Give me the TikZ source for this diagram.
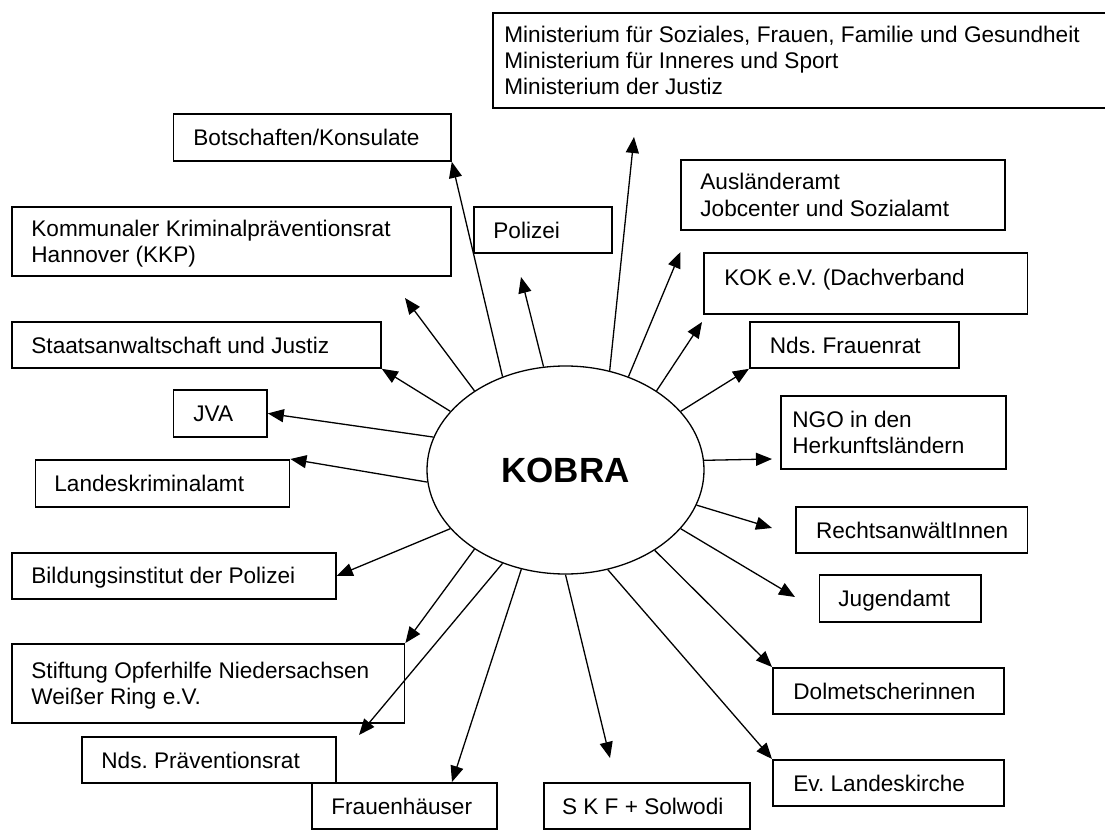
\documentclass[tikz,border=0pt]{standalone}
\usepackage{fontspec}
\setmainfont{Liberation Sans}
\usetikzlibrary{arrows.meta, shapes.geometric}
\frenchspacing
\newcommand{\lstrut}{\rule[-0.18em]{0pt}{1.08em}}
\newcommand{\orgbox}[7]{
    \node[orgbox, minimum width=#4*0.5pt, minimum height=#5*0.5pt, anchor=north west] (#1) at (#2,#3) {};
    \node[orgtext, anchor=west] (#1t) at ([xshift=#6*0.5pt] #1.west) {\lstrut#7\lstrut};
}

\begin{document}
\begin{tikzpicture}[x=0.5pt, y=-0.5pt,
        orgbox/.style={draw, line width=0.9pt, inner sep=0pt},
        orgtext/.style={align=left, inner sep=0pt, font=\fontsize{11.3pt}{13.2pt}\selectfont},
        arr/.style={-{Triangle[length=8pt, width=6.5pt]}, line width=0.65pt}]
        \useasboundingbox (0,0) rectangle (1105,830);
        \node[ellipse, draw, line width=0.65pt, minimum width=138.5pt, minimum height=104pt, inner sep=0pt,
            font=\fontsize{17.5pt}{20pt}\selectfont\bfseries] (kobra) at (565.5,470) {KOBRA};

        \orgbox{mini}{492}{12}{614}{95}{12}{Ministerium für Soziales, Frauen, Familie und Gesundheit\\Ministerium für Inneres und Sport\\Ministerium der Justiz}
        \orgbox{botsch}{172.5}{113}{277.5}{47}{20.5}{Botschaften/Konsulate}
        \orgbox{kkp}{11}{206}{439}{69}{20}{Kommunaler Kriminalpräventionsrat\\Hannover (KKP)}
        \orgbox{pol}{473}{206}{138}{46}{20}{Polizei}
        \orgbox{sta}{11}{321}{369}{46}{20}{Staatsanwaltschaft und Justiz}
        \orgbox{jva}{172.5}{389}{93.5}{47}{20.5}{JVA}
        \orgbox{lka}{34.6}{459}{254}{47}{19.4}{Landeskriminalamt}
        \orgbox{bild}{11}{552}{324}{46}{20}{Bildungsinstitut der Polizei}
        \orgbox{stift}{11}{643}{392.6}{79}{20}{Stiftung Opferhilfe Niedersachsen\\Weißer Ring e.V.}
        \orgbox{npr}{81.4}{736}{253.6}{46}{19.6}{Nds. Präventionsrat}
        \orgbox{fh}{311}{782}{185}{46}{20}{Frauenhäuser}
        \orgbox{skf}{543}{782}{206}{46}{18.6}{S K F + Solwodi}
        \orgbox{ev}{772}{759}{231}{46}{21}{Ev. Landeskirche}
        \orgbox{dol}{772}{667}{231}{46}{21}{Dolmetscherinnen}
        \orgbox{jug}{818.6}{574}{161.4}{46.7}{19.4}{Jugendamt}
        \orgbox{ra}{795}{506}{231.5}{46}{20.7}{RechtsanwältInnen}
        \orgbox{ngo}{780}{395}{225}{73}{12}{NGO in den\\Herkunftsländern}
        \orgbox{nfr}{749}{321}{209}{46}{20.5}{Nds. Frauenrat}
        \orgbox{kok}{703}{252}{323.5}{61}{21}{\raisebox{3pt}[\height][\depth]{KOK e.V. (Dachverband}}
        \orgbox{ausl}{680}{159}{324}{70}{20}{Ausländeramt\\Jobcenter und Sozialamt}

        \coordinate (kkptip) at (405,298);
        \coordinate (poltip) at (521,277);
        \coordinate (nprtip) at (359,735);
        \coordinate (fhtip) at (452,782);
        \coordinate (skftip) at (610,758);
        \coordinate (jugtip) at (795,597);
        \coordinate (ratip) at (772,528);
        \coordinate (ngotip) at (772,459);
        \coordinate (koktip) at (702,322);
        \coordinate (ausltip) at (680.5,252);
        \coordinate (minitip) at (634,137);

        \draw[arr] (kobra.124) -- (botsch.south east);
        \draw[arr] (kobra.139) -- (kkptip);
        \draw[arr] (kobra.102) -- (poltip);
        \draw[arr] (kobra.153) -- (sta.south east);
        \draw[arr] (kobra.166) -- (jva.east);
        \draw[arr] (kobra.185) -- (lka.north east);
        \draw[arr] (kobra.207) -- (bild.east);
        \draw[arr] (kobra.221.6) -- (stift.north east);
        \draw[arr] (kobra.236) -- (nprtip);
        \draw[arr] (kobra.246) -- (fhtip);
        \draw[arr] (kobra.270) -- (skftip);
        \draw[arr] (kobra.293) -- (ev.north west);
        \draw[arr] (kobra.318) -- (dol.north west);
        \draw[arr] (kobra.333) -- (jugtip);
        \draw[arr] (kobra.345) -- (ratip);
        \draw[arr] (kobra.4.5) -- (ngotip);
        \draw[arr] (kobra.27) -- (nfr.south west);
        \draw[arr] (kobra.41) -- (koktip);
        \draw[arr] (kobra.56) -- (ausltip);
        \draw[arr] (kobra.66) -- (minitip);
    \end{tikzpicture}
\end{document}
